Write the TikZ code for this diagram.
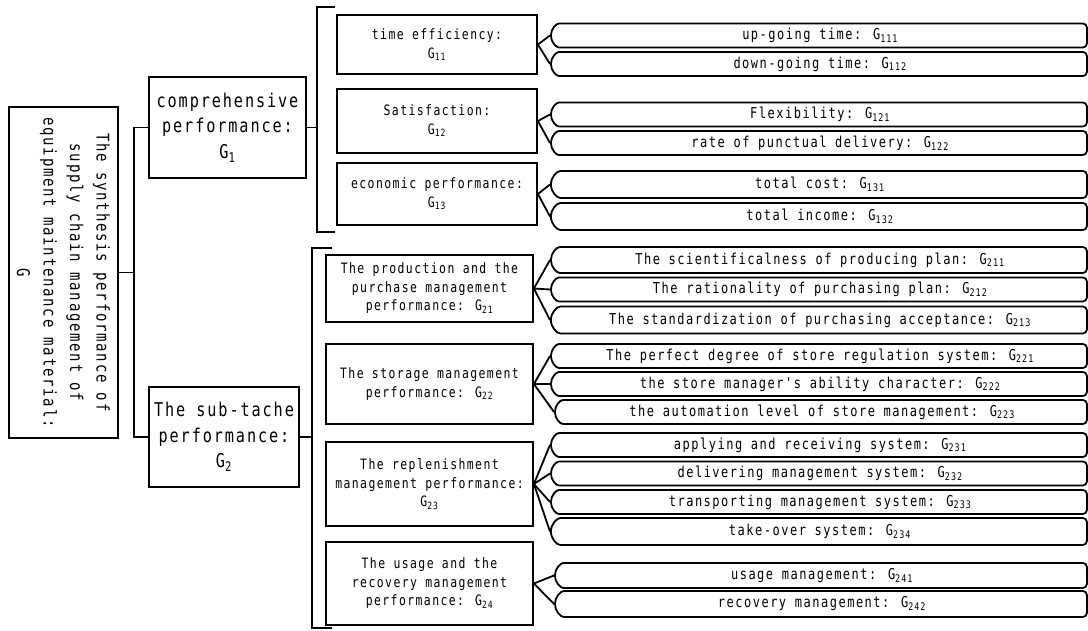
\documentclass[tikz,border=0pt]{standalone}
\usepackage{fontspec}
\newfontfamily\diagfont[FakeStretch=0.8, LetterSpace=10]{DejaVu Sans Mono}
\usetikzlibrary{shapes.misc}
\newcommand{\gsub}[1]{G\textsubscript{#1}}

\begin{document}
\begin{tikzpicture}[
      x=1pt, y=-1pt,
      line width=1.8pt,
      box/.style={
        draw,
        rectangle,
        inner sep=0pt,
        align=center
      },
      rootbox/.style={
        box,
        rotate=-90,
        minimum width=331pt,
        minimum height=109pt,
        font=\diagfont\fontsize{17.5}{26.5}\selectfont
      },
      mainbox/.style={
        box,
        minimum width=157pt,
        minimum height=101pt,
        font=\diagfont\fontsize{19}{25.5}\selectfont
      },
      subbox/.style={
        box,
        font=\diagfont\fontsize{14.3}{18.5}\selectfont
      },
      leaf/.style={
        draw,
        shape=rounded rectangle,
        rounded rectangle right arc=none,
        rounded corners=4pt,
        anchor=west,
        minimum width=536pt,
        minimum height=24pt,
        inner sep=0pt,
        font=\diagfont\fontsize{15}{16}\selectfont
      }
    ]
    \useasboundingbox (0,0) rectangle (1088,631);
    %% Root
    \node[rootbox] (root) at (63.5,272.5) {The synthesis performance of\\supply chain management of\\equipment maintenance material:\\G};
    %% Second level
    \node[mainbox] (g-1) at (227.5,127.5) {comprehensive\\performance:\\\gsub{1}};
    \node[mainbox, minimum width=150pt, minimum height=100pt] (g-2) at (224,437) {The sub-tache\\performance:\\\gsub{2}};
    %% Third level, G1
    \node[subbox, minimum width=200pt, minimum height=59pt] (g-11) at (437,44.5) {time efficiency:\\\gsub{11}};
    \node[subbox, minimum width=200pt, minimum height=64pt] (g-12) at (437,121) {Satisfaction:\\\gsub{12}};
    \node[subbox, minimum width=200pt, minimum height=62pt] (g-13) at (437,194) {economic performance:\\\gsub{13}};
    %% Third level, G2
    \node[subbox, minimum width=207pt, minimum height=67pt] (g-21) at (429.5,288.5) {The production and the\\purchase management\\performance: \gsub{21}};
    \node[subbox, minimum width=207pt, minimum height=80pt] (g-22) at (429.5,384) {The storage management\\performance: \gsub{22}};
    \node[subbox, minimum width=207pt, minimum height=84pt] (g-23) at (429.5,484) {The replenishment\\management performance:\\\gsub{23}};
    \node[subbox, minimum width=207pt, minimum height=83pt] (g-24) at (429.5,583.5) {The usage and the\\recovery management\\performance: \gsub{24}};
    %% Leaves
    \node[leaf] (g-111) at (550,35.5) {up-going time: \gsub{111}};
    \node[leaf] (g-112) at (550,64) {down-going time: \gsub{112}};
    \node[leaf] (g-121) at (550,114.5) {Flexibility: \gsub{121}};
    \node[leaf] (g-122) at (550,143) {rate of punctual delivery: \gsub{122}};
    \node[leaf, minimum height=27pt] (g-131) at (550,184.5) {total cost: \gsub{131}};
    \node[leaf, minimum height=27pt] (g-132) at (550,216.5) {total income: \gsub{132}};
    \node[leaf, minimum height=26pt] (g-211) at (550,260) {The scientificalness of producing plan: \gsub{211}};
    \node[leaf] (g-212) at (550,289.5) {The rationality of purchasing plan: \gsub{212}};
    \node[leaf, minimum height=27pt] (g-213) at (550,320) {The standardization of purchasing acceptance: \gsub{213}};
    \node[leaf] (g-221) at (550,356) {The perfect degree of store regulation system: \gsub{221}};
    \node[leaf] (g-222) at (550,384) {the store manager's ability character: \gsub{222}};
    \node[leaf, minimum width=532pt] (g-223) at (554,412) {the automation level of store management: \gsub{223}};
    \node[leaf] (g-231) at (550,445) {applying and receiving system: \gsub{231}};
    \node[leaf] (g-232) at (550,473.5) {delivering management system: \gsub{232}};
    \node[leaf] (g-233) at (550,502) {transporting management system: \gsub{233}};
    \node[leaf, minimum height=27pt] (g-234) at (550,531.5) {take-over system: \gsub{234}};
    \node[leaf, minimum width=532pt, minimum height=25pt] (g-241) at (554,575.5) {usage management: \gsub{241}};
    \node[leaf, minimum width=532pt, minimum height=26pt] (g-242) at (554,604) {recovery management: \gsub{242}};
    %% Root -> second level
    \coordinate (root-fork) at (134,272.5);
    \draw (root.north) -- (root-fork);
    \draw (g-1.west) -| (root-fork) |- (g-2.west);
    %% Bracket G1
    \coordinate (b-1) at (317,127.5);
    \coordinate (b-1-top) at (335,7);
    \coordinate (b-1-bot) at (335,232);
    \draw (g-1.east) -- (b-1);
    \draw (b-1-top) -- (b-1-top -| b-1) -- (b-1-bot -| b-1) -- (b-1-bot);
    %% Bracket G2
    \coordinate (b-2) at (312,437);
    \coordinate (b-2-top) at (332,248);
    \coordinate (b-2-bot) at (332,628);
    \draw (g-2.east) -- (b-2);
    \draw (b-2-top) -- (b-2-top -| b-2) -- (b-2-bot -| b-2) -- (b-2-bot);
    %% Fans to leaves
    \draw (g-11.east) -- (g-111.west);
    \draw (g-11.east) -- (g-112.west);
    \draw (g-12.east) -- (g-121.west);
    \draw (g-12.east) -- (g-122.west);
    \draw (g-13.east) -- (g-131.west);
    \draw (g-13.east) -- (g-132.west);
    \draw (g-21.east) -- (g-211.west);
    \draw (g-21.east) -- (g-212.west);
    \draw (g-21.east) -- (g-213.west);
    \draw (g-22.east) -- (g-221.west);
    \draw (g-22.east) -- (g-222.west);
    \draw (g-22.east) -- (g-223.west);
    \draw (g-23.east) -- (g-231.west);
    \draw (g-23.east) -- (g-232.west);
    \draw (g-23.east) -- (g-233.west);
    \draw (g-23.east) -- (g-234.west);
    \draw (g-24.east) -- (g-241.west);
    \draw (g-24.east) -- (g-242.west);
  \end{tikzpicture}
\end{document}
